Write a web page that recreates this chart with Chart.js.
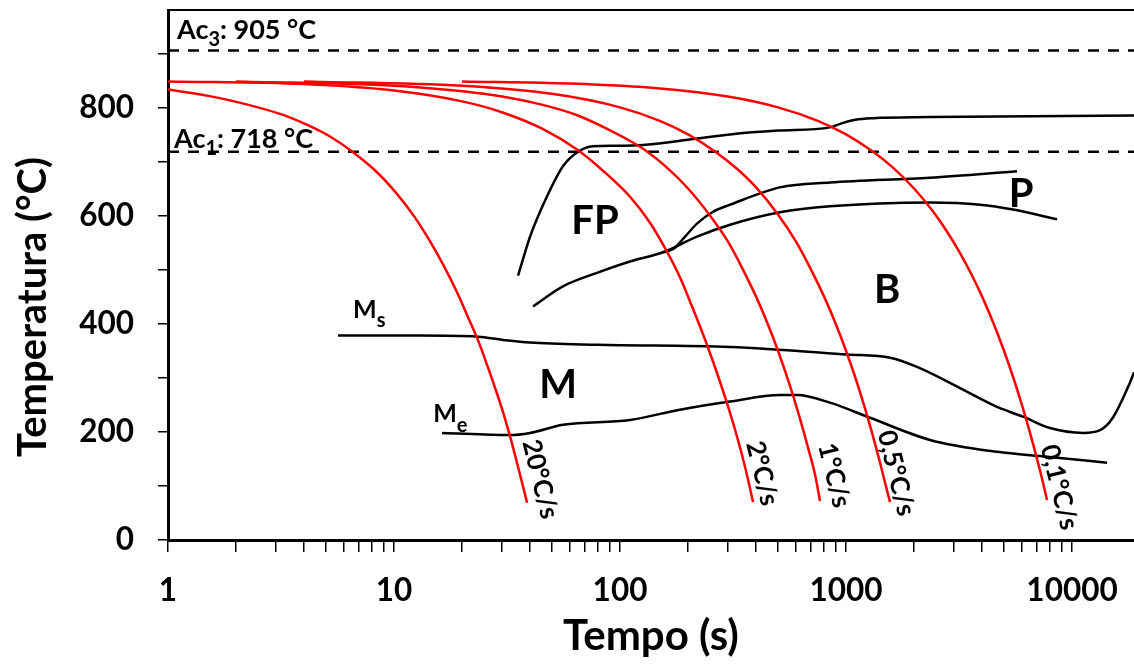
<!DOCTYPE html>
<html><head><meta charset="utf-8">
<script src="https://cdn.jsdelivr.net/npm/chart.js@4/dist/chart.umd.min.js"></script>
<style>html,body{margin:0;padding:0;background:#fff}#wrap{width:1134px;height:666px}</style>
</head><body><div id="wrap"><canvas id="c" width="1134" height="666"></canvas></div>
<script>
// ---- tick values / labels ----
const xTickValues = [1,2,3,4,5,6,7,8,9,10,20,30,40,50,60,70,80,90,100,200,300,400,500,600,700,800,900,1000,2000,3000,4000,5000,6000,7000,8000,9000,10000];
const xTickLabels = [1,10,100,1000,10000];
const yTickValues = [0,100,200,300,400,500,600,700,800,900];
const yTickLabels = [0,200,400,600,800];

// ---- critical temperatures ----
const Ac3 = 905;
const Ac1 = 718;

// ---- cooling curves (time s, temperature °C) ----
const rate20_t = [1, 1.65, 2.5, 3.23, 4.2, 5.21, 6.59, 8.41, 10.3, 12.3, 14.4, 16.7, 19, 21.2, 23.5, 26, 28.6, 30.6, 32.6, 35.5, 38.8];
const rate20_T = [833, 818, 800, 786, 766, 746, 717, 680, 640, 598, 553, 505, 458, 413, 370, 320, 270, 232, 192, 133, 69];
const rate2_t = [1, 4, 10, 20, 30, 45, 65, 85, 110, 135, 160, 185, 210, 240, 270, 300, 330, 360, 388];
const rate2_T = [848, 843, 831, 811, 791, 761, 721, 681, 636, 588, 536, 484, 428, 366, 306, 248, 190, 130, 70];
const rate1_t = [2, 10, 25, 45, 65, 90, 115, 132, 160, 200, 250, 300, 350, 400, 450, 500, 560, 620, 680, 730, 767];
const rate1_T = [848, 840, 825, 805, 785, 758, 734, 718, 690, 650, 600, 552, 500, 450, 400, 350, 290, 230, 170, 120, 72];
const rate05_t = [4, 20, 50, 100, 150, 200, 264, 330, 400, 500, 600, 700, 800, 900, 1000, 1100, 1200, 1300, 1400, 1490, 1566];
const rate05_T = [848, 840, 825, 800, 775, 750, 718, 686, 652, 602, 552, 500, 450, 400, 350, 300, 250, 200, 150, 105, 70];
const rate01_t = [20, 60, 150, 300, 500, 750, 1000, 1317, 1600, 2000, 2400, 2800, 3200, 3600, 4000, 4500, 5000, 5500, 6000, 6500, 7000, 7400, 7750];
const rate01_T = [848, 844, 835, 820, 800, 775, 750, 718, 690, 650, 610, 570, 530, 490, 450, 400, 350, 300, 250, 200, 150, 110, 74];

// ---- transformation curves ----
const FP_t = [35.4, 40, 47.5, 55.9, 65.2, 75.9, 95, 130, 200, 307, 500, 849, 950, 1100, 1317, 2353, 18800];
const FP_T = [489, 561, 635, 691, 718, 728, 729, 731, 740, 750, 757, 763, 770, 777, 780, 782, 785];
const P_t = [155, 172, 194, 219, 258, 307, 510, 849, 2353, 5710];
const P_T = [532, 538, 561, 585, 607, 620, 652, 661, 670, 682];
const B_t = [41.2, 55.9, 79.1, 110.7, 155, 219, 307, 510, 849, 2353, 3918, 5480, 8584];
const B_T = [432, 469, 494, 515, 532, 561, 583, 606, 617, 624, 620, 611, 593];
const Ms_t = [5.65, 13, 23.5, 30.4, 40, 79.1, 307, 1010, 1566, 2061, 3294, 4657, 6069, 7993, 11190, 13300, 15200, 18000, 18800];
const Ms_T = [378, 378, 376, 370, 365, 361, 357, 343, 337, 320, 278, 246, 228, 207, 198, 203, 227, 290, 310];
const Me_t = [16.3, 32.6, 40, 55.9, 110.7, 184, 307, 510, 607, 849, 1277, 2353, 4657, 7750, 14290];
const Me_T = [198, 194, 198, 213, 222, 241, 256, 268, 268, 254, 226, 185, 163, 154, 143];

const X_MIN = 1, X_MAX = 18800, Y_MIN = 0, Y_MAX = 980;

// ---- labels (anchor in data coordinates) ----
const rateLabels = [
  {text:'20°C/s', t:44.7, T:113},
  {text:'2°C/s', t:429, T:124},
  {text:'1°C/s', t:894, T:120},
  {text:'0,5°C/s', t:1681, T:124},
  {text:'0,1°C/s', t:8851, T:98}
];
const regionLabels = [
  {text:'FP', t:77.5, T:593},
  {text:'M', t:53.2, T:290},
  {text:'B', t:1519, T:464},
  {text:'P', t:5947, T:643}
];

const FONT = 'Lato, "Open Sans", sans-serif';

function pts(ts, Ts){ return ts.map((t,i)=>({x:t, y:Ts[i]})); }
function redLine(ts, Ts){ return {data:pts(ts,Ts), borderColor:'#ff0000', borderWidth:2.5, pointRadius:0, fill:false, cubicInterpolationMode:'monotone'}; }
function blackLine(ts, Ts){ return {data:pts(ts,Ts), borderColor:'#000000', borderWidth:2.5, pointRadius:0, fill:false, cubicInterpolationMode:'monotone'}; }
function dashLine(v){ return {data:[{x:X_MIN,y:v},{x:X_MAX,y:v}], borderColor:'#000', borderWidth:2.5, borderDash:[11,9], pointRadius:0, fill:false}; }

function drawSub(ctx, x, yb, parts){
  let cx = x;
  parts.forEach(p=>{
    ctx.font = `bold ${p.size}px ${FONT}`;
    ctx.fillText(p.text, cx, yb + (p.dy||0));
    cx += ctx.measureText(p.text).width;
  });
}

function noPad(s){ s.paddingTop = 0; s.paddingBottom = 0; s.paddingLeft = 0; s.paddingRight = 0; }

const annot = {
  id:'annot',
  afterDraw(chart){
    const {ctx, chartArea} = chart;
    const xs = chart.scales.x, ys = chart.scales.y;
    ctx.save();
    ctx.fillStyle = '#000';
    ctx.textAlign = 'left';
    ctx.textBaseline = 'alphabetic';
    // Ac labels
    drawSub(ctx, chartArea.left + 9, ys.getPixelForValue(Ac3) - 12, [{text:'Ac',size:27},{text:'3',size:20,dy:7},{text:': 905 °C',size:27}]);
    drawSub(ctx, chartArea.left + 6, ys.getPixelForValue(Ac1) - 4, [{text:'Ac',size:27},{text:'1',size:20,dy:7},{text:': 718 °C',size:27}]);
    // Ms / Me
    drawSub(ctx, xs.getPixelForValue(6.59), ys.getPixelForValue(410), [{text:'M',size:25},{text:'s',size:20,dy:9}]);
    drawSub(ctx, xs.getPixelForValue(14.9), ys.getPixelForValue(218), [{text:'M',size:25},{text:'e',size:20,dy:10}]);
    // region labels
    ctx.textAlign = 'center';
    regionLabels.forEach(l=>{
      const s = 40;
      ctx.font = `bold ${s}px ${FONT}`;
      ctx.fillText(l.text, xs.getPixelForValue(l.t), ys.getPixelForValue(l.T) + 0.36*s);
    });
    // rate labels
    rateLabels.forEach(l=>{
      const s = 26;
      ctx.save();
      ctx.translate(xs.getPixelForValue(l.t), ys.getPixelForValue(l.T));
      ctx.rotate(76*Math.PI/180);
      ctx.font = `bold ${s}px ${FONT}`;
      ctx.textAlign = 'center';
      ctx.fillText(l.text, 0, 0.36*s);
      ctx.restore();
    });
    // y axis title
    ctx.save();
    const ts = 40;
    ctx.translate(34 + 0.29*ts, 307);
    ctx.rotate(-Math.PI/2);
    ctx.font = `bold ${ts}px ${FONT}`;
    ctx.textAlign = 'center';
    ctx.fillText('Temperatura (°C)', 0, 0);
    ctx.restore();
    ctx.restore();
  }
};

new Chart(document.getElementById('c'), {
  type:'line',
  data:{ datasets:[
    redLine(rate20_t, rate20_T),
    redLine(rate2_t, rate2_T),
    redLine(rate1_t, rate1_T),
    redLine(rate05_t, rate05_T),
    redLine(rate01_t, rate01_T),
    blackLine(FP_t, FP_T),
    blackLine(P_t, P_T),
    blackLine(B_t, B_T),
    blackLine(Ms_t, Ms_T),
    blackLine(Me_t, Me_T),
    dashLine(Ac3),
    dashLine(Ac1)
  ]},
  options:{
    responsive:false, animation:false, devicePixelRatio:1,
    layout:{padding:{top:10,left:0,right:0,bottom:0}},
    plugins:{legend:{display:false}, tooltip:{enabled:false}},
    scales:{
      x:{
        type:'logarithmic', position:'bottom', min:X_MIN, max:X_MAX, bounds:'data',
        afterBuildTicks:(s)=>{ s.ticks = xTickValues.map(v=>({value:v})); },
        afterFit:(s)=>{ s.height = 126; noPad(s); },
        ticks:{ autoSkip:false, maxRotation:0, minRotation:0, padding:20, color:'#000',
          font:{family:FONT, weight:'bold', size:31.5},
          callback:(v)=> xTickLabels.includes(v) ? String(v) : '' },
        grid:{ display:true, drawOnChartArea:false, drawTicks:true, tickLength:12, color:'#000', lineWidth:1.5 },
        border:{ display:true, color:'#000', width:3 },
        title:{ display:true, text:'Tempo (s)', color:'#000', font:{family:FONT, weight:'bold', size:42}, padding:{top:0,bottom:4} }
      },
      xTop:{
        type:'logarithmic', position:'top', min:X_MIN, max:X_MAX, bounds:'data',
        afterFit:(s)=>{ s.height = 0; noPad(s); },
        ticks:{ display:false },
        grid:{ display:true, drawOnChartArea:false, drawTicks:false, color:'#000' },
        border:{ display:true, color:'#000', width:2 }
      },
      y:{
        type:'linear', position:'left', min:Y_MIN, max:Y_MAX, bounds:'data',
        afterBuildTicks:(s)=>{ s.ticks = yTickValues.map(v=>({value:v})); },
        afterFit:(s)=>{ s.width = 168; noPad(s); },
        ticks:{ padding:24, color:'#000', font:{family:FONT, weight:'bold', size:31.5},
          callback:(v)=> yTickLabels.includes(v) ? String(v) : '' },
        grid:{ display:true, drawOnChartArea:false, drawTicks:true, tickLength:10, color:'#000', lineWidth:1.5 },
        border:{ display:true, color:'#000', width:3 }
      }
    }
  },
  plugins:[annot]
});
</script></body></html>
